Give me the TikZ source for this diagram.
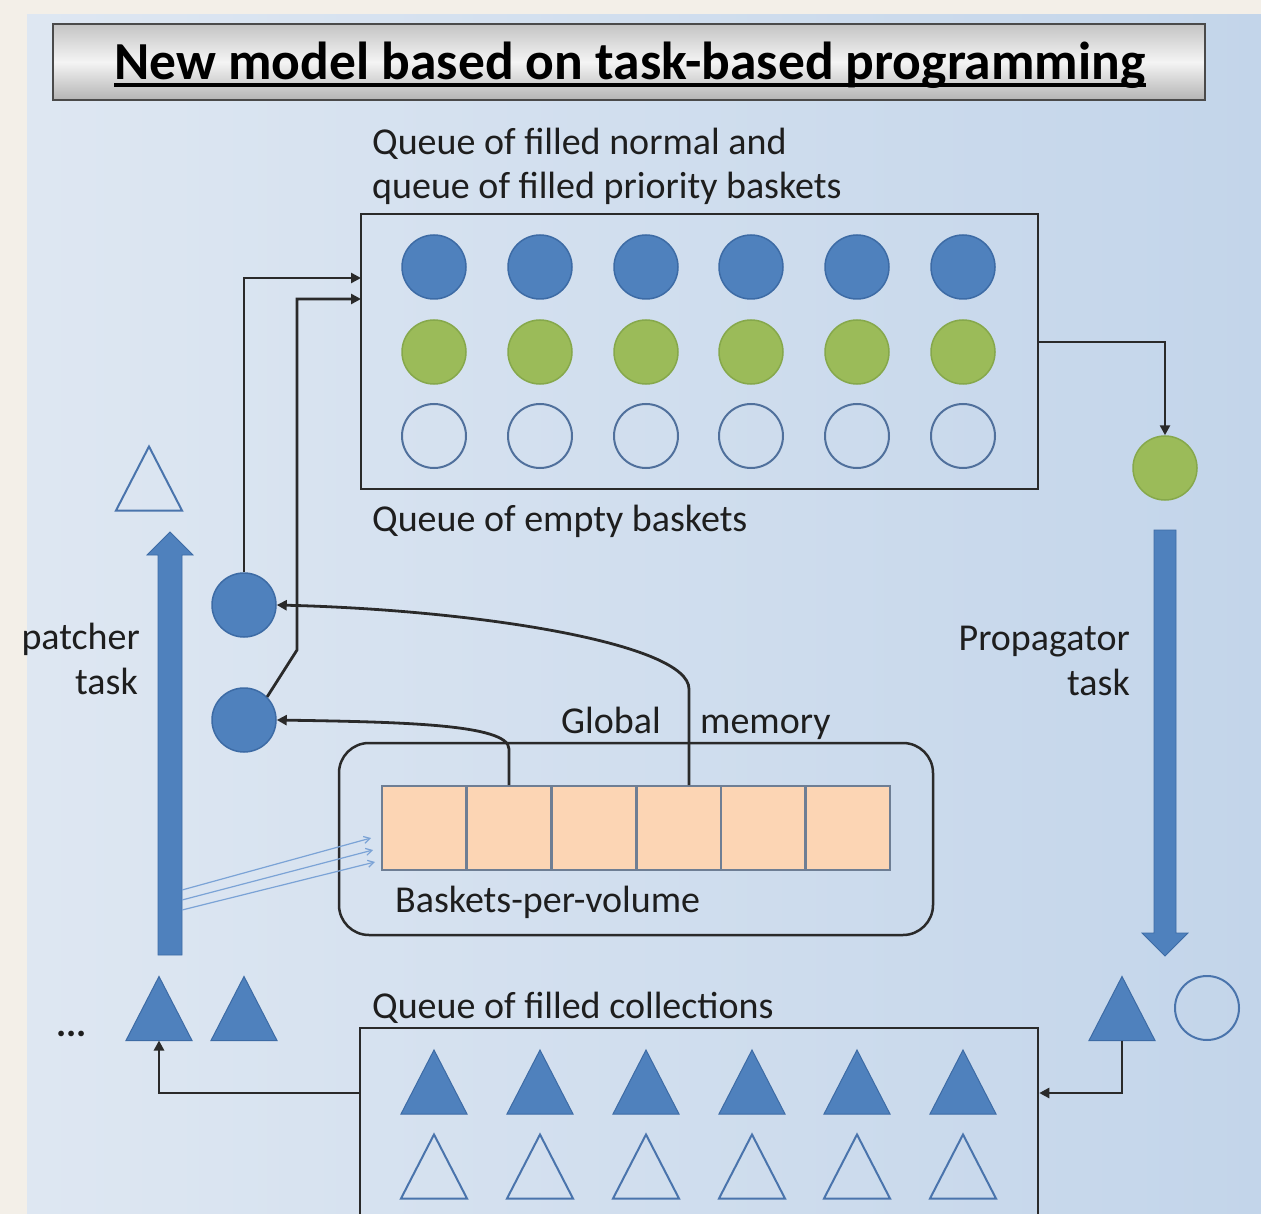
\documentclass[tikz,border=0pt]{standalone}
\usepackage{fontspec}
\setmainfont{Carlito}
\usetikzlibrary{arrows.meta,calc}
\definecolor{beige}{HTML}{F3EFE8}
\definecolor{panelL}{HTML}{DEE7F2}
\definecolor{panelR}{HTML}{C3D5EA}
\definecolor{oblue}{HTML}{4F81BD}
\definecolor{obluedk}{HTML}{3D6BA5}
\definecolor{ogreen}{HTML}{9BBB59}
\definecolor{ogreendk}{HTML}{86A84B}
\definecolor{emptyline}{HTML}{50709C}
\definecolor{oline}{HTML}{4A74AC}
\definecolor{peach}{HTML}{FCD5B4}
\definecolor{cellline}{HTML}{6E7E94}
\definecolor{dark}{HTML}{2A2A2A}
\definecolor{txt}{HTML}{1E1E1E}
\definecolor{thinblue}{HTML}{7BA3D6}
\definecolor{titleline}{HTML}{4A4A4A}
\definecolor{tgtop}{HTML}{C4C4C4}
\definecolor{tgmid}{HTML}{F4F4F4}
\definecolor{tgbot}{HTML}{B4B4B4}
\begin{document}
\begin{tikzpicture}[x=1pt,y=-1pt,
  bc/.style={circle,minimum size=64pt,inner sep=0pt,fill=oblue,draw=obluedk,line width=1.5pt},
  gc/.style={circle,minimum size=64pt,inner sep=0pt,fill=ogreen,draw=ogreendk,line width=1.5pt},
  ec/.style={circle,minimum size=64pt,inner sep=0pt,draw=emptyline,line width=2pt},
  conn/.style={draw=dark,line width=2.8pt,-{Triangle[length=10pt,width=10pt]}},
  lbl/.style={font=\fontsize{38}{46}\selectfont,text=txt,inner sep=0pt},
  cellbox/.style={rectangle,minimum width=84.8pt,minimum height=84pt,inner sep=0pt,fill=peach,draw=cellline,line width=2pt},
  ftri/.style={fill=oblue,draw=obluedk,line width=1pt},
  otri/.style={draw=oline,line width=2pt},
  thinarr/.style={draw=thinblue,line width=1.2pt,-{Straight Barb[length=6pt,width=7pt]}},
  bigarrow/.style={fill=oblue,draw=obluedk,line width=0.8pt},
  ftriangle/.pic={\path[ftri] (0,-32) -- (33,32) -- (-33,32) -- cycle; \coordinate (-base) at (0,32);},
  otriangle/.pic={\path[otri] (0,-32) -- (33,32) -- (-33,32) -- cycle; \coordinate (-base) at (0,32);}
]
\clip (0,0) rectangle (1261,1214);
\fill[beige] (0,0) rectangle (1261,1214);
\shade[left color=panelL,right color=panelR] (27,15) rectangle (1261,1214);

% title
\node[draw=titleline,line width=1.5pt,top color=tgtop,bottom color=tgbot,middle color=tgmid,
      minimum width=1152pt,minimum height=76pt,inner sep=0pt] (titlebox) at (629,62) {};
\node[font=\fontsize{53.5}{60}\selectfont\bfseries,text=black,inner sep=0pt,anchor=base] (titletext) at (630,80)
  {New model based on task-based programming};
\draw[line width=3.5pt,black] ([yshift=-5pt]titletext.base west) -- ([yshift=-5pt]titletext.base east);

% top queue
\node[lbl,anchor=base west] (lq1) at (372,155) {Queue of filled normal and};
\node[lbl,anchor=base west] (lq2) at (372,199) {queue of filled priority baskets};
\node[draw=dark,line width=2.5pt,minimum width=677pt,minimum height=275pt,inner sep=0pt] (topbox) at (699.5,351.5) {};
\foreach \i/\x in {1/434,2/540,3/646,4/751,5/857,6/963}{
  \node[bc] (b\i) at (\x,267) {};
  \node[gc] (g\i) at (\x,352) {};
  \node[ec] (e\i) at (\x,436) {};
}
\node[lbl,anchor=base west] (lempty) at (372,531) {Queue of empty baskets};

% dispatcher side
\pic (tout) at (149,478.5) {otriangle};
\path[bigarrow] (158,955) -- (158,555) -- (147,555) -- (170,532) -- (193,555) -- (182,555) -- (182,955) -- cycle;
\node[lbl,anchor=base east] (ldisp) at (140,649) {patcher};
\node[lbl,anchor=base east] (ldtask) at (138,694) {task};
\node[bc] (c1) at (244,605) {};
\node[bc] (c2) at (244,720) {};

% global memory
\node[draw=dark,line width=2.5pt,rounded corners=30pt,minimum width=594pt,minimum height=192pt,inner sep=0pt] (mem) at (636,839) {};
\foreach \i/\x in {1/424,2/509,3/594,4/679,5/763,6/848}{
  \node[cellbox] (cell\i) at (\x,828) {};
}
\node[lbl,anchor=base west] (lglobal) at (561,733) {Global};
\node[lbl,anchor=base west] (lmemory) at (700,733) {memory};
\node[lbl,anchor=base west] (lbpv) at (395,912) {Baskets-per-volume};

% propagator side
\node[gc] (gr) at (1165,468) {};
\path[bigarrow] (1154,530) -- (1176,530) -- (1176,933) -- (1188,933) -- (1165,956) -- (1142,933) -- (1154,933) -- cycle;
\node[lbl,anchor=base east] (lprop) at (1130,650) {Propagator};
\node[lbl,anchor=base east] (lptask) at (1130,695) {task};

% bottom
\pic (t1) at (159,1008.5) {ftriangle};
\pic (t2) at (244,1008.5) {ftriangle};
\node[font=\fontsize{38}{46}\selectfont\bfseries,text=txt,inner sep=0pt,anchor=base west] (ldots) at (56,1036) {...};
\node[lbl,anchor=base west] (lcoll) at (372,1018) {Queue of filled collections};
\node[draw=dark,line width=2.5pt,minimum width=678pt,minimum height=232pt,inner sep=0pt] (botbox) at (699,1144) {};
\foreach \i/\x in {1/434,2/540,3/646,4/752,5/857,6/963}{
  \pic (bf\i) at (\x,1082) {ftriangle};
  \pic (bo\i) at (\x,1166.5) {otriangle};
}
\pic (t7) at (1122,1008.5) {ftriangle};
\node[circle,minimum size=64pt,inner sep=0pt,draw=oline,line width=2pt] (rc) at (1207,1008) {};

% coordinates
\coordinate (in1) at (361,278);
\coordinate (in2) at (361,299);
\coordinate (lev) at (0,1093);
\coordinate (s1) at (182,890);
\coordinate (s2) at (182,900);
\coordinate (s3) at (182,910);
\coordinate (a1) at (371,838);
\coordinate (a2) at (373,850);
\coordinate (a3) at (375,862);

% connectors
\draw[conn] (c1.north) |- (in1);
\draw[conn] (c2.45) -- (297,650) |- (in2);
\draw[conn] ([xshift=10pt]cell4.north) -- ++(0,-96) .. controls +(0,-45) and (480,610) .. (c1.east);
\draw[conn] (cell2.north) -- ++(0,-36) .. controls +(0,-25) and (400,722) .. (c2.east);
\draw[conn] ([yshift=9.5pt]topbox.east) -| (gr.north);
\draw[conn] (botbox.west |- lev) -| (t1-base);
\draw[conn] (t7-base) |- (botbox.east |- lev);
\draw[thinarr] (s1) -- (a1);
\draw[thinarr] (s2) -- (a2);
\draw[thinarr] (s3) -- (a3);
\end{tikzpicture}
\end{document}
